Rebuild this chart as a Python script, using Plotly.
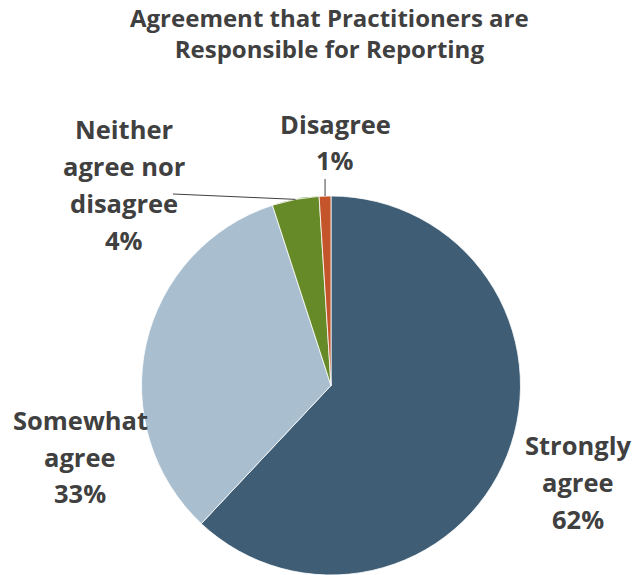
import math
import plotly.graph_objects as go

# Survey responses
categories = ["Strongly agree", "Somewhat agree", "Neither agree nor disagree", "Disagree"]
values = [62, 33, 4, 1]
colors = ["#3F5E75", "#A9BFD0", "#678A28", "#C4552B"]

# How each category label is broken into lines
label_lines = [
    ["Strongly", "agree"],
    ["Somewhat", "agree"],
    ["Neither", "agree nor", "disagree"],
    ["Disagree"],
]
title_lines = ["Agreement that Practitioners are", "Responsible for Reporting"]

W, H = 637, 575
FONT = "Open Sans"
TEXT_COLOR = "#404040"

# Pie placement in pixels
cx, cy, r = 331, 385.5, 189.5


def px(x):
    return x / W


def py(y):
    return 1 - y / H


fig = go.Figure(
    go.Pie(
        labels=categories,
        values=values,
        sort=False,
        direction="clockwise",
        rotation=0,
        marker=dict(colors=colors, line=dict(color="white", width=0.8)),
        textinfo="none",
        hoverinfo="label+percent",
        showlegend=False,
        domain=dict(x=[px(cx - r), px(cx + r)], y=[py(cy + r), py(cy - r)]),
    )
)

annotations = [dict(
    text="<b>" + "<br>".join(title_lines) + "</b>", x=px(330), y=py(33),
    xref="paper", yref="paper", xanchor="center", yanchor="middle",
    showarrow=False, font=dict(family=FONT, size=24, color=TEXT_COLOR),
)]

# Label block anchors: (center x, center y of first line, line step)
label_pos = [(578, 445, 37), (80, 420, 36.5), (124, 129, 37), (335, 124, 36)]
total = sum(values)
for lines, v, (lx, ly, step) in zip(label_lines, values, label_pos):
    pct = f"{v / total * 100:.0f}%"
    for j, t in enumerate(lines + [pct]):
        annotations.append(dict(
            text=f"<b>{t}</b>", x=px(lx), y=py(ly + step * j),
            xref="paper", yref="paper", xanchor="center", yanchor="middle",
            showarrow=False, font=dict(family=FONT, size=25.5, color=TEXT_COLOR),
        ))


def edge_point(idx):
    """Point on the rim at the angular middle of slice idx (clockwise from 12 o'clock)."""
    start = sum(values[:idx]) / total
    mid = (start + values[idx] / total / 2) * 2 * math.pi
    return cx + r * math.sin(mid), cy - r * math.cos(mid)


# Leader lines for the two small slices
shapes = []
nx, ny = edge_point(2)
shapes.append(dict(type="line", xref="paper", yref="paper",
                   x0=px(173), y0=py(194), x1=px(nx), y1=py(ny),
                   line=dict(color="#404040", width=1)))
dx, dy = edge_point(3)
shapes.append(dict(type="line", xref="paper", yref="paper",
                   x0=px(dx), y0=py(179), x1=px(dx), y1=py(dy),
                   line=dict(color="#404040", width=1)))

fig.update_layout(
    width=W, height=H,
    margin=dict(l=0, r=0, t=0, b=0),
    paper_bgcolor="white", plot_bgcolor="white",
    annotations=annotations, shapes=shapes,
)

fig.write_html("out.html")
